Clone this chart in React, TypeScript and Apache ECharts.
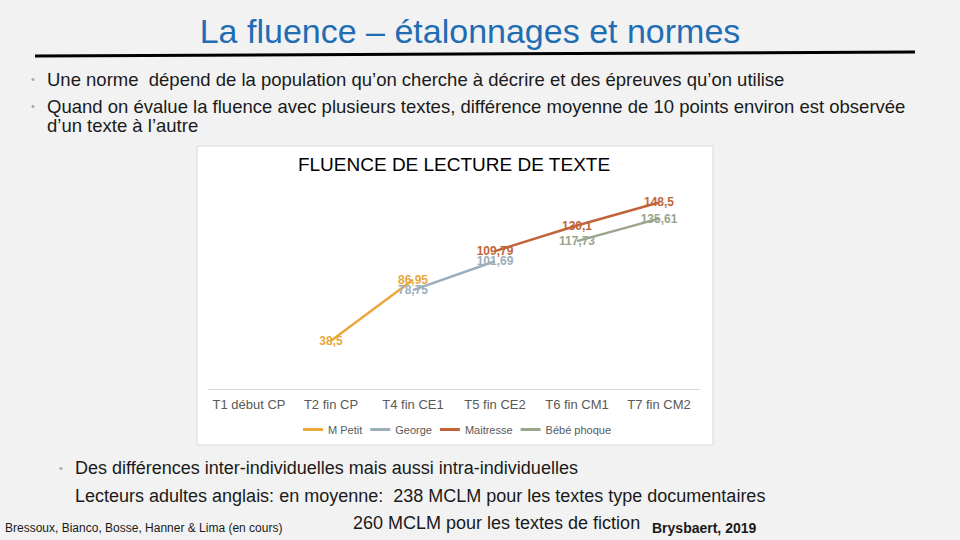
import { useEffect, useRef } from 'react'
import * as echarts from 'echarts'

const categories = ['T1 début CP', 'T2 fin CP', 'T4 fin CE1', 'T5 fin CE2', 'T6 fin CM1', 'T7 fin CM2']
const mPetit = [null, 38.5, 86.95, null, null, null]
const george = [null, null, 78.75, 101.69, null, null]
const maitresse = [null, null, null, 109.79, 130.1, 148.5]
const bebePhoque = [null, null, null, null, 117.73, 135.61]

const seriesNames = ['M Petit', 'George', 'Maitresse', 'Bébé phoque']
const seriesColors = ['#E8A83B', '#9DAEBB', '#C2643A', '#9AA58C']

const FONT = '"Liberation Sans", Arial, sans-serif'

const bodyText = (text: string, x: number, y: number, size = 18) => ({
  type: 'text',
  x,
  y,
  style: { text, fill: '#1a1a1a', font: `${size}px ${FONT}`, verticalAlign: 'middle' }
})

const bullet = (x: number, y: number) => ({
  type: 'text',
  x,
  y,
  style: { text: '•', fill: '#a6a6a6', font: `11px ${FONT}`, verticalAlign: 'middle' }
})

export default function App() {
  const chartRef = useRef<HTMLDivElement | null>(null)

  useEffect(() => {
    if (!chartRef.current) return
    const chart = echarts.init(chartRef.current, null, { renderer: 'svg' })

    const lists = [mPetit, george, maitresse, bebePhoque]

    const option = {
      animation: false,
      backgroundColor: '#F2F2F2',
      graphic: [
        {
          type: 'rect',
          z: -10,
          shape: { x: 197, y: 146, width: 516, height: 299 },
          style: { fill: '#ffffff', stroke: '#D9D9D9', lineWidth: 1 }
        },
        {
          type: 'text',
          x: 470,
          y: 31,
          style: {
            text: 'La fluence – étalonnages et normes',
            fill: '#1F6DB3',
            font: `34px ${FONT}`,
            align: 'center',
            verticalAlign: 'middle'
          }
        },
        {
          type: 'line',
          shape: { x1: 35, y1: 56, x2: 915, y2: 52 },
          style: { stroke: '#000000', lineWidth: 3 }
        },
        bullet(31, 79),
        bodyText('Une norme  dépend de la population qu’on cherche à décrire et des épreuves qu’on utilise', 47, 79, 18.5),
        bullet(31, 106),
        bodyText('Quand on évalue la fluence avec plusieurs textes, différence moyenne de 10 points environ est observée', 47, 106, 18.5),
        bodyText('d’un texte à l’autre', 47, 125, 18.5),
        {
          type: 'text',
          x: 454,
          y: 164,
          style: {
            text: 'FLUENCE DE LECTURE DE TEXTE',
            fill: '#000000',
            font: `19px ${FONT}`,
            align: 'center',
            verticalAlign: 'middle'
          }
        },
        bullet(59, 468),
        bodyText('Des différences inter-individuelles mais aussi intra-individuelles', 75, 468),
        bodyText('Lecteurs adultes anglais: en moyenne:  238 MCLM pour les textes type documentaires', 75, 496),
        bodyText('260 MCLM pour les textes de fiction', 353, 523),
        bodyText('Bressoux, Bianco, Bosse, Hanner & Lima (en cours)', 5, 528, 12),
        {
          type: 'text',
          x: 652,
          y: 528,
          style: {
            text: 'Brysbaert, 2019',
            fill: '#1a1a1a',
            font: `bold 14px ${FONT}`,
            verticalAlign: 'middle'
          }
        }
      ],
      legend: {
        data: seriesNames,
        left: 298,
        top: 419,
        icon: 'rect',
        itemWidth: 20,
        itemHeight: 3,
        itemGap: 8,
        textStyle: { color: '#595959', fontSize: 11, fontFamily: FONT }
      },
      grid: { left: 208, right: 260, top: 188, bottom: 151 },
      xAxis: {
        type: 'category',
        data: categories,
        boundaryGap: true,
        axisLine: { lineStyle: { color: '#D9D9D9' } },
        axisTick: { show: false },
        axisLabel: { color: '#595959', fontSize: 13, fontFamily: FONT, margin: 9, interval: 0 }
      },
      yAxis: {
        type: 'value',
        min: 0,
        max: 160,
        show: false,
        splitLine: { show: false }
      },
      series: seriesNames.map((name, i) => ({
        name,
        type: 'line',
        data: lists[i],
        color: seriesColors[i],
        showSymbol: true,
        symbol: 'circle',
        symbolSize: 0,
        lineStyle: { width: 2.5, color: seriesColors[i] },
        label: {
          show: true,
          position: 'inside',
          color: seriesColors[i],
          fontSize: 12,
          fontWeight: 'bold',
          fontFamily: FONT,
          formatter: (p: { value: number | null }) =>
            p.value == null ? '' : String(p.value).replace('.', ',')
        }
      }))
    }

    chart.setOption(option)
    return () => chart.dispose()
  }, [])

  return (
    <div
      ref={chartRef}
      style={{ position: 'absolute', left: 0, top: 0, width: 960, height: 540 }}
    />
  )
}
